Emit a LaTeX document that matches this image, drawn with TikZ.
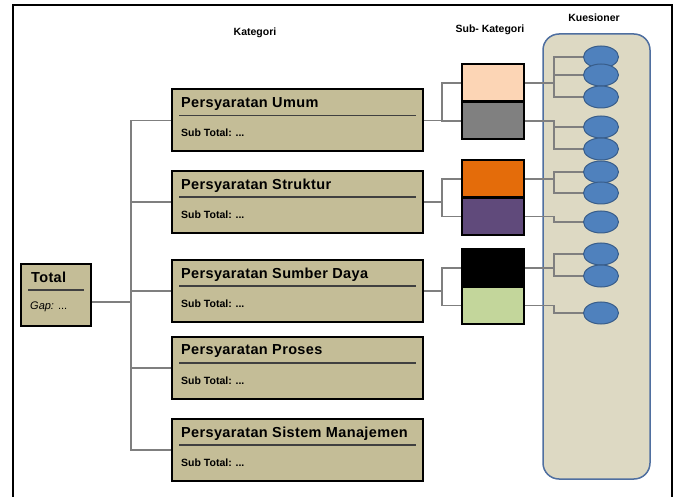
\documentclass[tikz,border=0pt]{standalone}
\usepackage{fontspec}
\setmainfont{Liberation Sans}
\usetikzlibrary{shapes.geometric}

\definecolor{tanbox}{HTML}{C4BD97}
\definecolor{peach}{HTML}{FCD5B5}
\definecolor{abu}{HTML}{808080}
\definecolor{oranye}{HTML}{E46C0A}
\definecolor{ungu}{HTML}{604A7B}
\definecolor{hijau}{HTML}{C3D69B}
\definecolor{ellfill}{HTML}{4F81BD}
\definecolor{ellbor}{HTML}{385D8A}
\definecolor{capfill}{HTML}{DDD9C3}
\definecolor{capbor}{HTML}{4F6FA0}
\definecolor{linegray}{HTML}{7F7F7F}
\definecolor{sekatgray}{HTML}{404040}

\begin{document}
\begin{tikzpicture}[x=1pt,y=-1pt,
  katbox/.style={draw=black, line width=2pt, fill=tanbox, minimum width=251pt, minimum height=62pt, inner sep=0pt},
  subbox/.style={draw=black, line width=2pt, minimum width=62pt, minimum height=37pt, inner sep=0pt},
  soal/.style={ellipse, draw=ellbor, line width=1pt, fill=ellfill, minimum width=35pt, minimum height=22pt, inner sep=0pt},
  garis/.style={draw=linegray, line width=1.2pt},
  judul/.style={font=\fontsize{14.5}{16}\selectfont\bfseries\addfontfeature{LetterSpace=2.5}, anchor=west, inner sep=0pt},
  subjudul/.style={font=\fontsize{10.5}{12}\selectfont\bfseries, anchor=west, inner sep=0pt},
  sekat/.style={draw=sekatgray, line width=1.4pt},
  kepala/.style={font=\fontsize{10.5}{12}\selectfont\bfseries}]

  \useasboundingbox (0,0) rectangle (678,497);
  % bingkai
  \draw[line width=2.5pt] (13,497) -- (13,5) -- (672,5) -- (672,497);
  % wadah kuesioner
  \draw[draw=capbor, fill=capfill, line width=1.5pt, rounded corners=16pt] (543,34) rectangle (650,479);

  % judul kolom
  \node[kepala] (hkat) at (255,33) {Kategori};
  \node[kepala] (hsub) at (490,30) {Sub- Kategori};
  \node[kepala] (hkue) at (594,18) {Kuesioner};

  % total
  \node[katbox, minimum width=70pt] (total) at (56,295) {};
  \node[judul] at ([xshift=11pt,yshift=-14pt]total.north west) {Total};
  \draw[sekat] ([xshift=8pt,yshift=-27pt]total.north west) -- ([xshift=-8pt,yshift=-27pt]total.north east);
  \node[subjudul, font=\fontsize{11}{12}\selectfont] at ([xshift=10pt,yshift=-44pt]total.north west) {\textit{Gap:} ...};

  % kategori
  \foreach \nm/\yy/\teks in {umum/120.5/Persyaratan Umum, struktur/202/Persyaratan Struktur,
      sumber/291/Persyaratan Sumber Daya, proses/368/Persyaratan Proses,
      sistem/450/Persyaratan Sistem Manajemen} {
    \node[katbox] (\nm) at (297.5,\yy) {};
    \node[judul] at ([xshift=10pt,yshift=-15.5pt]\nm.north west) {\teks};
    \draw[sekat] ([xshift=8pt,yshift=-27pt]\nm.north west) -- ([xshift=-8pt,yshift=-27pt]\nm.north east);
    \node[subjudul] at ([xshift=10pt,yshift=-44.5pt]\nm.north west) {Sub Total: ...};
    \draw[garis] ([yshift=-7pt]total.east) -| ([xshift=-40pt]\nm.west) -- (\nm.west);
  }

  % sub kategori
  \node[subbox, fill=peach] (peach) at (493,83) {};
  \node[subbox, fill=abu] (abu) at (493,121) {};
  \node[subbox, fill=oranye] (oranye) at (493,179) {};
  \node[subbox, fill=ungu] (ungu) at (493,216.5) {};
  \node[subbox, fill=black] (hitam) at (493,268) {};
  \node[subbox, fill=hijau] (hijau) at (493,305.5) {};
  \foreach \ka/\sb in {umum/peach, umum/abu, struktur/oranye, struktur/ungu, sumber/hitam, sumber/hijau}
    \draw[garis] (\ka.east) -| ([xshift=-19pt]\sb.west) -- (\sb.west);

  % kuesioner
  \foreach \i/\yy in {1/57, 2/75, 3/97, 4/127, 5/149, 6/172, 7/193, 8/222, 9/254, 10/276, 11/313}
    \node[soal] (e\i) at (601,\yy) {};
  \foreach \sb/\i in {peach/1, peach/2, peach/3, abu/4, abu/5, oranye/6, oranye/7,
      ungu/8, hitam/9, hitam/10, hijau/11}
    \draw[garis] (\sb.east) -| ([xshift=-29pt]e\i.west) -- (e\i.west);
\end{tikzpicture}
\end{document}
